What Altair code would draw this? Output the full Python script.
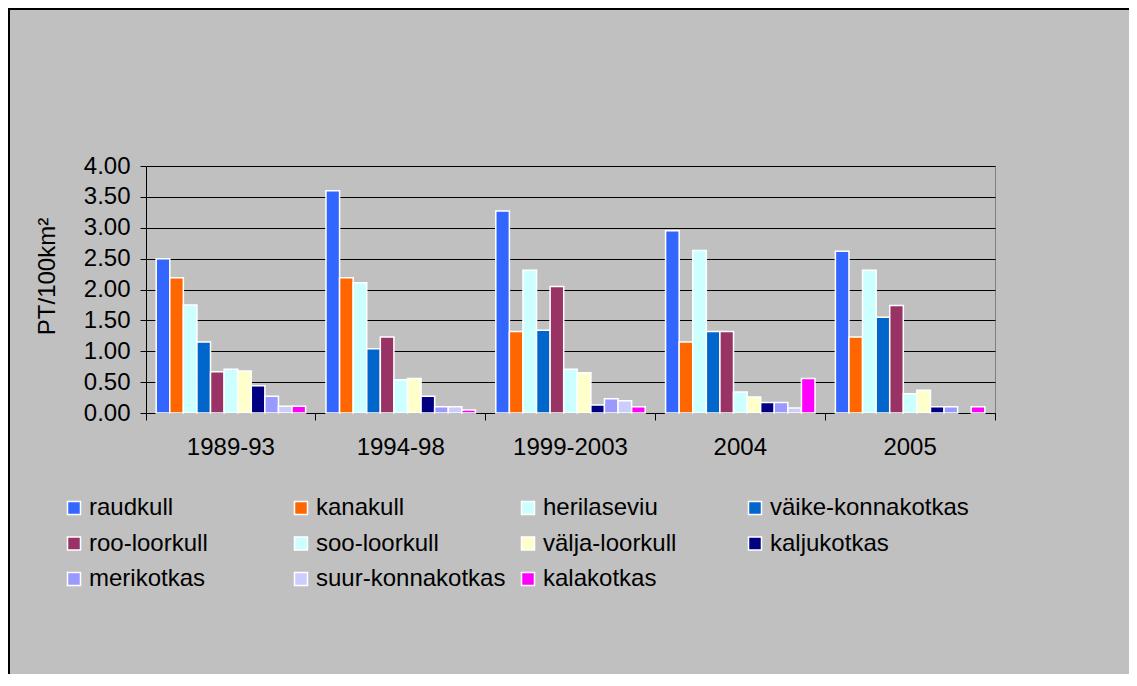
import altair as alt
import pandas as pd

periods = ["1989-93", "1994-98", "1999-2003", "2004", "2005"]
series = ["raudkull", "kanakull", "herilaseviu", "väike-konnakotkas", "roo-loorkull",
          "soo-loorkull", "välja-loorkull", "kaljukotkas", "merikotkas",
          "suur-konnakotkas", "kalakotkas"]
colors = ["#3366FF", "#FF6600", "#CCFFFF", "#0066CC", "#993366",
          "#CCFFFF", "#FFFFCC", "#000080", "#9999FF", "#CCCCFF", "#FF00FF"]

raudkull = [2.50, 3.60, 3.27, 2.95, 2.62]
kanakull = [2.19, 2.19, 1.32, 1.15, 1.23]
herilaseviu = [1.75, 2.11, 2.31, 2.63, 2.31]
vaike_konnakotkas = [1.15, 1.04, 1.34, 1.32, 1.55]
roo_loorkull = [0.67, 1.23, 2.05, 1.32, 1.74]
soo_loorkull = [0.71, 0.54, 0.71, 0.34, 0.31]
valja_loorkull = [0.68, 0.56, 0.65, 0.26, 0.37]
kaljukotkas = [0.44, 0.27, 0.13, 0.17, 0.10]
merikotkas = [0.27, 0.10, 0.23, 0.17, 0.10]
suur_konnakotkas = [0.11, 0.10, 0.20, 0.08, 0.0]
kalakotkas = [0.11, 0.05, 0.10, 0.56, 0.10]

y_ticks = [0, 0.5, 1.0, 1.5, 2.0, 2.5, 3.0, 3.5, 4.0]

all_values = [raudkull, kanakull, herilaseviu, vaike_konnakotkas, roo_loorkull,
              soo_loorkull, valja_loorkull, kaljukotkas, merikotkas,
              suur_konnakotkas, kalakotkas]

rows = []
for s, vals in zip(series, all_values):
    for p, v in zip(periods, vals):
        rows.append({"period": p, "series": s, "value": v})
df = pd.DataFrame(rows)

FONT = "Liberation Sans"
FS = 24
W, H = 849, 247
PAD = {"left": 138, "top": 158, "right": 134, "bottom": 261}

bars = alt.Chart(df).transform_filter("datum.value > 0").mark_bar(
    stroke="white", strokeWidth=1.5
).encode(
    x=alt.X("period:N", sort=periods,
            scale=alt.Scale(domain=periods, paddingInner=0, paddingOuter=0),
            axis=alt.Axis(title=None, labelAngle=0, labelFont=FONT, labelFontSize=FS,
                          labelColor="black", domainColor="black", tickColor="black",
                          tickSize=7, labelPadding=15, bandPosition=1, tickExtra=True,
                          grid=False)),
    xOffset=alt.XOffset("series:N", sort=series,
                        scale=alt.Scale(domain=series, paddingInner=0, paddingOuter=0.75)),
    y=alt.Y("value:Q",
            scale=alt.Scale(domain=[0, 4], nice=False, zero=True),
            axis=alt.Axis(title="PT/100km²", values=y_ticks, format=".2f",
                          labelFont=FONT, labelFontSize=FS, labelColor="black",
                          labelPadding=10, tickSize=6, tickColor="black",
                          domainColor="black", gridColor="black", gridWidth=1,
                          titleFont=FONT, titleFontSize=FS, titleFontWeight="normal",
                          titleColor="black", titleAngle=270, titleAlign="center",
                          titleBaseline="middle", titleX=-99, titleY=110)),
    color=alt.Color("series:N", sort=series,
                    scale=alt.Scale(domain=series, range=colors),
                    legend=alt.Legend(title=None, orient="none", legendX=-84, legendY=330,
                                      direction="horizontal", columns=4, gridAlign="all",
                                      columnPadding=1, rowPadding=11.5,
                                      symbolType="square", symbolSize=169,
                                      symbolStrokeColor="white", symbolStrokeWidth=1.5,
                                      symbolOpacity=1, labelFont=FONT, labelFontSize=FS,
                                      labelColor="black", labelOffset=3, labelLimit=400,
                                      padding=0)),
)

border_left = alt.Chart(df).mark_rule(color="black", strokeWidth=2).encode(
    x=alt.value(-137), y=alt.value(-158), y2=alt.value(H + 261)
)
border_top = alt.Chart(df).mark_rule(color="black", strokeWidth=2).encode(
    y=alt.value(-157), x=alt.value(-138), x2=alt.value(W + 134)
)

chart = alt.layer(bars, border_left, border_top).properties(
    width=W, height=H,
    autosize=alt.AutoSizeParams(type="none"),
    padding=PAD,
    background="#C0C0C0",
).configure_view(
    fill="#C0C0C0", stroke="#808080", strokeWidth=1
)

chart.save("out.html", embed_options={"renderer": "svg", "actions": False})
